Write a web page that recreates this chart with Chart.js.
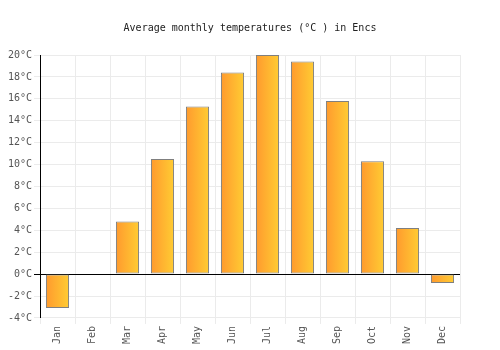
<!DOCTYPE html>
<html>
<head>
<meta charset="utf-8">
<script src="https://cdn.jsdelivr.net/npm/chart.js@4/dist/chart.umd.min.js"></script>
<style>
html,body{margin:0;padding:0;background:#fff;}
#wrap{width:500px;height:350px;}
</style>
</head>
<body>
<div id="wrap"><canvas id="c" width="500" height="350"></canvas></div>
<script>
const months = ["Jan","Feb","Mar","Apr","May","Jun","Jul","Aug","Sep","Oct","Nov","Dec"];
const temps = [-3.1, 0, 4.8, 10.5, 15.3, 18.4, 20.0, 19.4, 15.8, 10.3, 4.2, -0.8];
const titleText = "Average monthly temperatures (°C ) in Encs";
const yMin = -4, yMax = 20, yStep = 2;
const BAR_PCT = 0.66;

function barGradient(ctx) {
  const chart = ctx.chart;
  const xs = chart.scales && chart.scales.x;
  if (!xs || ctx.dataIndex === undefined) return '#ffb030';
  const cx = xs.getPixelForValue(ctx.dataIndex);
  const w = (xs.width / months.length) * BAR_PCT;
  if (!isFinite(cx) || !isFinite(w)) return '#ffb030';
  const g = chart.ctx.createLinearGradient(cx - w/2, 0, cx + w/2, 0);
  g.addColorStop(0, '#ff9a2e');
  g.addColorStop(1, '#ffcc33');
  return g;
}

new Chart(document.getElementById('c'), {
  type: 'bar',
  data: {
    labels: months,
    datasets: [{
      data: temps,
      backgroundColor: barGradient,
      borderColor: '#7f7f7f',
      borderWidth: 1,
      borderSkipped: false,
      barPercentage: BAR_PCT,
      categoryPercentage: 1.0
    }]
  },
  options: {
    responsive: false,
    animation: false,
    devicePixelRatio: 1,
    layout: { padding: { left: 0, right: 0, top: 0, bottom: 4 } },
    plugins: {
      legend: { display: false },
      tooltip: { enabled: false },
      title: {
        display: true,
        text: titleText,
        color: '#222',
        font: { family: 'DejaVu Sans Mono', size: 10, weight: 'normal' },
        padding: { top: 22, bottom: 21 }
      }
    },
    scales: {
      x: {
        offset: true,
        grid: { color: '#ebebeb', offset: true, drawTicks: true, tickLength: 6 },
        border: { display: false },
        ticks: {
          color: '#555',
          font: { family: 'DejaVu Sans Mono', size: 10 },
          maxRotation: 90, minRotation: 90,
          padding: 2
        }
      },
      y: {
        min: yMin, max: yMax,
        afterFit: (s) => { s.width = 40; },
        grid: {
          color: (c) => (c.tick && c.tick.value === 0) ? '#000' : '#ebebeb',
          lineWidth: 1,
          tickLength: 6,
          drawTicks: true
        },
        border: { display: true, color: '#000', width: 1 },
        ticks: {
          stepSize: yStep,
          color: '#555',
          padding: 2,
          font: { family: 'DejaVu Sans Mono', size: 10 },
          callback: (v) => v + '°C'
        }
      },
      yRight: {
        position: 'right',
        min: yMin, max: yMax,
        afterFit: (s) => { s.width = 40; },
        grid: { display: false, drawOnChartArea: false },
        border: { display: false },
        ticks: { display: false }
      }
    }
  }
});
</script>
</body>
</html>
